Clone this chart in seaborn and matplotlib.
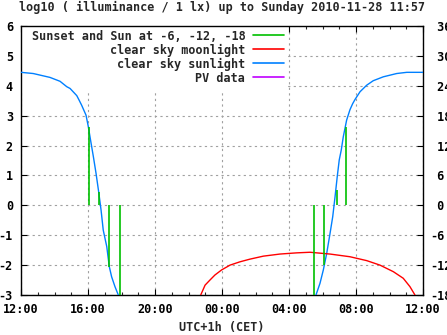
import matplotlib
matplotlib.use("Agg")
import matplotlib.pyplot as plt
from matplotlib.lines import Line2D
from matplotlib.patches import Rectangle
from matplotlib.ticker import MultipleLocator
import seaborn as sns
import pandas as pd

# ---- data (hours after 12:00 local time) ----
sun_eve_h = [0.0, 0.73, 1.73, 2.33, 2.73, 2.93, 3.33, 3.46, 3.62, 3.88, 4.02, 4.12,
             4.32, 4.48, 4.64, 4.78, 4.91, 5.12, 5.27, 5.41, 5.61, 5.81, 5.95]
sun_eve_v = [4.45, 4.41, 4.28, 4.15, 3.97, 3.91, 3.67, 3.53, 3.35, 3.02, 2.63, 2.29,
             1.63, 1.07, 0.44, -0.16, -0.83, -1.38, -2.05, -2.39, -2.72, -3.0, -3.2]
sun_morn_h = [17.45, 17.61, 17.85, 18.05, 18.25, 18.45, 18.61, 18.75, 18.88, 19.0, 19.12,
              19.24, 19.44, 19.64, 19.80, 19.94, 20.24, 20.64, 21.03, 21.63, 22.43, 23.03, 24.0]
sun_morn_v = [-3.2, -3.0, -2.61, -2.16, -1.61, -0.94, -0.38, 0.29, 0.96, 1.52, 1.85,
              2.29, 2.85, 3.20, 3.40, 3.54, 3.80, 4.02, 4.17, 4.30, 4.41, 4.45, 4.45]
moon_h = [10.73, 10.99, 11.28, 11.58, 11.98, 12.48, 13.07, 13.67, 14.47, 15.46, 16.46,
          17.25, 18.45, 19.64, 20.64, 21.43, 22.23, 22.82, 23.22, 23.52]
moon_v = [-3.0, -2.67, -2.50, -2.33, -2.16, -2.0, -1.89, -1.80, -1.70, -1.63, -1.59,
          -1.57, -1.63, -1.72, -1.85, -2.0, -2.22, -2.44, -2.72, -3.0]
twi_h = [4.04, 4.64, 5.27, 5.93, 17.51, 18.11, 18.85, 19.40]
twi_v = [2.62, 0.44, -2.05, -3.2, -3.2, -2.0, 0.51, 2.63]

x_ticks = [0, 4, 8, 12, 16, 20, 24]
x_labels = ["12:00", "16:00", "20:00", "00:00", "04:00", "08:00", "12:00"]
y_ticks = [-3, -2, -1, 0, 1, 2, 3, 4, 5, 6]
y2_ticks = [-18, -12, -6, 0, 6, 12, 18, 24, 30, 36]
y2_labels = ["-18", "-12", "-6", " 0", " 6", " 12", " 18", " 24", " 30", " 36"]
legend_labels = ["Sunset and Sun at -6, -12, -18", "clear sky moonlight",
                 "clear sky sunlight", "PV data"]
title = "log10 ( illuminance / 1 lx) up to Sunday 2010-11-28 11:57"
xlabel = "UTC+1h (CET)"

C_GREEN, C_RED, C_BLUE, C_PURPLE = "#00c000", "#ff0000", "#0080ff", "#c000ff"

sns.set_theme(style="white")
plt.rcParams["font.family"] = ["DejaVu Sans Mono"]
plt.rcParams["font.weight"] = "bold"
FS = 8.45

W, H = 447, 335
fig = plt.figure(figsize=(W / 100, H / 100), dpi=100)
L, R, B, T = 21, 423, 295, 26
ax = fig.add_axes([L / W, 1 - B / H, (R - L) / W, (B - T) / H])

# grid
ax.set_axisbelow(True)
ax.grid(True, which="major", color="#a0a0a0", linestyle=(0, (2, 3)), linewidth=0.8)

# opaque key box (hides grid, not curves)
ax.add_patch(Rectangle((0, 1 - (92 - T) / (B - T)), (288 - L) / (R - L), (92 - T) / (B - T),
                       transform=ax.transAxes, facecolor="white", edgecolor="none", zorder=1))

lw = 1.0
df_e = pd.DataFrame({"h": sun_eve_h, "v": sun_eve_v})
df_m = pd.DataFrame({"h": sun_morn_h, "v": sun_morn_v})
df_moon = pd.DataFrame({"h": moon_h, "v": moon_v})
sns.lineplot(data=df_e, x="h", y="v", ax=ax, color=C_BLUE, linewidth=lw, zorder=3, sort=False)
sns.lineplot(data=df_m, x="h", y="v", ax=ax, color=C_BLUE, linewidth=lw, zorder=3, sort=False)
sns.lineplot(data=df_moon, x="h", y="v", ax=ax, color=C_RED, linewidth=lw, zorder=3, sort=False)
ax.vlines(twi_h, 0, twi_v, colors=C_GREEN, linewidth=1.2, zorder=4)

ax.set_xlim(0, 24)
ax.set_ylim(-3, 6)
ax.set_xticks(x_ticks)
ax.set_xticklabels(x_labels, fontsize=FS, fontweight="bold")
ax.xaxis.set_minor_locator(MultipleLocator(1))
ax.set_yticks(y_ticks)
ax.set_yticklabels([str(v) for v in y_ticks], fontsize=FS, fontweight="bold")
ax.set_xlabel("")
ax.set_ylabel("")
ax.tick_params(axis="x", which="major", direction="in", length=4.5, width=0.8,
               top=True, bottom=True, pad=5.5, colors="black")
ax.tick_params(axis="x", which="minor", direction="in", length=2.5, width=0.8,
               top=True, bottom=True)
ax.tick_params(axis="y", which="major", direction="in", length=4.5, width=0.8,
               left=True, right=False, pad=5.8, colors="black")
for s in ax.spines.values():
    s.set_color("black")
    s.set_linewidth(1.0)

ax2 = ax.twinx()
ax2.set_ylim(-18, 36)
ax2.set_yticks(y2_ticks)
ax2.set_yticklabels(y2_labels, fontsize=FS, fontweight="bold")
ax2.tick_params(axis="y", direction="in", length=4.5, width=0.8, pad=5.0, colors="black")
ax2.grid(False)
for s in ax2.spines.values():
    s.set_visible(False)

handles = [Line2D([], [], color=c, linewidth=1.2) for c in (C_GREEN, C_RED, C_BLUE, C_PURPLE)]
leg = ax.legend(handles, legend_labels, loc="upper right",
                bbox_to_anchor=(284 / W, 1 - 29.5 / H), bbox_transform=fig.transFigure,
                frameon=False, markerfirst=False, borderpad=0, borderaxespad=0,
                handlelength=2.6, handletextpad=0.7, labelspacing=0.08,
                prop={"family": "DejaVu Sans Mono", "weight": "bold", "size": FS})
leg.set_zorder(5)

fig.text(222 / W, 1 - 10.5 / H, title, ha="center", va="baseline", fontsize=FS, fontweight="bold")
fig.text(222 / W, 1 - 331 / H, xlabel, ha="center", va="baseline", fontsize=FS, fontweight="bold")

fig.savefig("out.png", dpi=100, facecolor="white")
